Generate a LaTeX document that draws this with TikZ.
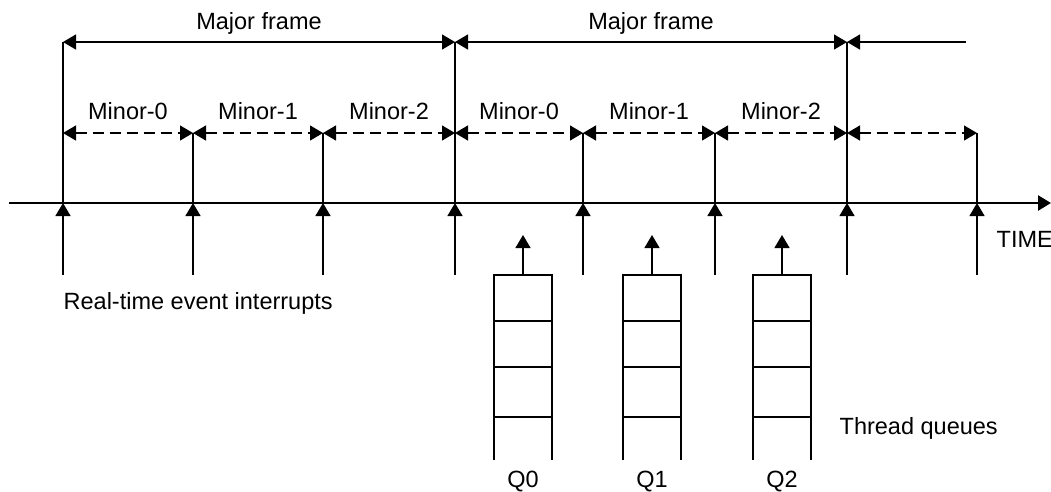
\documentclass[tikz,border=0pt]{standalone}
\usepackage{fontspec}
\setmainfont{Liberation Sans}
\usetikzlibrary{arrows.meta}

\begin{document}
\begin{tikzpicture}[x=1pt,y=-1pt,line width=1.3pt,
	>={Triangle[length=13pt,width=15pt]},
	lbl/.style={font=\fontsize{23.5}{28}\selectfont,inner sep=0pt},
	frame/.style={<->},
	minor/.style={<->,dash pattern=on 11pt off 6pt},
	axis/.style={->,line width=2.6pt}]
	\useasboundingbox (0,0) rectangle (1051,491);
	\coordinate (start) at (9,203);
	\coordinate (stop) at (1051,203);
	\draw[axis] (start) -- (stop);
	\foreach \x [count=\i from 0] in {63,193,323,455,583,715,847,977} {
		\coordinate (ax\i) at (\x,203);
		\coordinate (lo\i) at (\x,275);
		\coordinate (mi\i) at (\x,133);
		\draw[->] (lo\i) -- (ax\i);
		\draw (ax\i) -- (mi\i);
	}
	\foreach \i/\x in {0/63,3/455,6/847} {
		\coordinate (mj\i) at (\x,42);
		\draw (mi\i) -- (mj\i);
	}
	\coordinate (mjend) at (966,42);
	\draw[frame] (mj0) -- node[lbl,anchor=base,yshift=13pt] (maj0) {Major frame} (mj3);
	\draw[frame] (mj3) -- node[lbl,anchor=base,yshift=13pt] (maj1) {Major frame} (mj6);
	\draw[<-] (mj6) -- (mjend);
	\foreach \a/\b/\t in {0/1/Minor-0,1/2/Minor-1,2/3/Minor-2,3/4/Minor-0,4/5/Minor-1,5/6/Minor-2}
		\draw[minor] (mi\a) -- node[lbl,anchor=base,yshift=14pt] (mn\a) {\t} (mi\b);
	\draw[minor] (mi6) -- (mi7);
	\foreach \q/\cx in {0/523,1/652,2/782} {
		\coordinate (qt\q) at (\cx,275);
		\coordinate (qa\q) at (\cx,235);
		\draw[->] (qt\q) -- (qa\q);
		\draw (\cx-29,460) -- (\cx-29,275) -- (\cx+29,275) -- (\cx+29,460);
		\foreach \y in {321,367,417}
			\draw (\cx-29,\y) -- (\cx+29,\y);
		\node[lbl,anchor=base] (q\q) at (\cx,487) {Q\q};
	}
	\node[lbl,anchor=base west] (rt) at (63,309) {Real-time event interrupts};
	\node[lbl,anchor=base west] (time) at (996,247) {TIME};
	\node[lbl,anchor=base west] (tq) at (839,434) {Thread queues};
\end{tikzpicture}
\end{document}
